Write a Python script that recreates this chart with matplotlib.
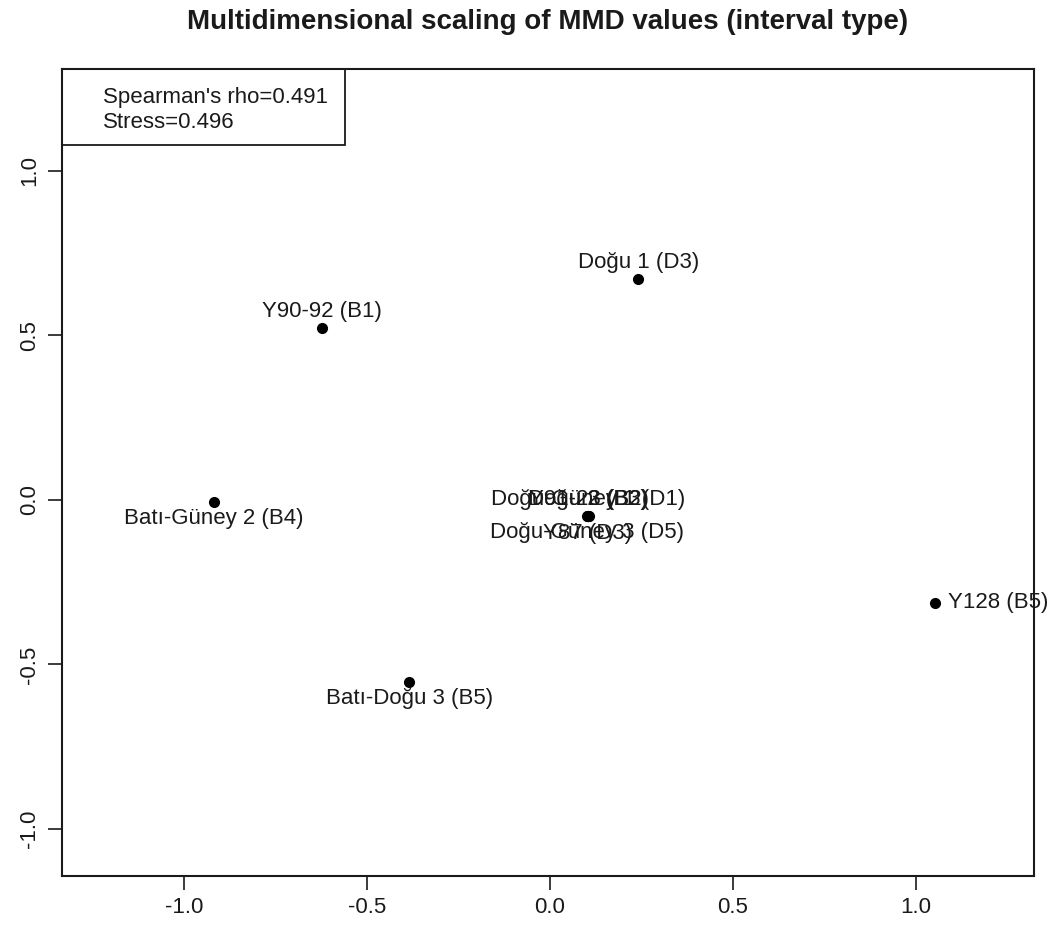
import matplotlib
matplotlib.use("Agg")
import matplotlib.pyplot as plt
from matplotlib.patches import Rectangle

plt.rcParams['font.family'] = ['Liberation Sans', 'DejaVu Sans']

# MDS coordinates
labels = ["Doğu 1 (D3)", "Y90-92 (B1)", "Batı-Güney 2 (B4)",
          "Doğu-Güney 1 (D1)", "Doğu 2 (B3)", "Y91-23 (B2)",
          "Doğu-Güney 3 (D5)", "Y87 (D3)",
          "Y128 (B5)", "Batı-Doğu 3 (B5)"]
dim1 = [0.242, -0.625, -0.920, 0.104, 0.103, 0.106, 0.102, 0.104, 1.052, -0.385]
dim2 = [0.672, 0.522, -0.007, -0.048, -0.049, -0.050, -0.049, -0.050, -0.313, -0.553]
# 3 = above, 1 = below, 4 = right (like R's pos)
label_pos = [3, 3, 1, 3, 3, 3, 1, 1, 4, 1]

rho = 0.491
stress = 0.496

fig = plt.figure(figsize=(10.56, 9.26), dpi=100)
ax = fig.add_axes([62 / 1056, 1 - 876 / 926, 972 / 1056, 807 / 926])

ax.plot(dim1, dim2, "o", color="black", markersize=7, linestyle="none")

for x, y, lab, p in zip(dim1, dim2, labels, label_pos):
    if p == 3:
        off, ha = (0, 12), "center"
    elif p == 1:
        off, ha = (0, -12), "center"
    else:
        off, ha = (10, 0), "left"
    ax.annotate(lab, (x, y), xytext=off, textcoords="offset points",
                ha=ha, va="center", fontsize=16, color="#1a1a1a",
                annotation_clip=False)

ax.set_xlim(-1.335, 1.324)
ax.set_ylim(-1.143, 1.310)
ax.set_xticks([-1.0, -0.5, 0.0, 0.5, 1.0])
ax.set_yticks([-1.0, -0.5, 0.0, 0.5, 1.0])
ax.set_xticklabels(["-1.0", "-0.5", "0.0", "0.5", "1.0"])
ax.set_yticklabels(["-1.0", "-0.5", "0.0", "0.5", "1.0"], rotation=90, va="center")
ax.tick_params(axis="both", labelsize=16, length=10, width=1.2,
               colors="#1a1a1a")
ax.tick_params(axis="x", pad=5)
ax.tick_params(axis="y", pad=6)

for sp in ax.spines.values():
    sp.set_linewidth(1.5)
    sp.set_color("#1a1a1a")

# legend box like R's legend("topleft")
ax.add_patch(Rectangle((0, 0.906), 0.291, 0.094, transform=ax.transAxes,
                       fill=False, edgecolor="#1a1a1a", linewidth=1.3,
                       clip_on=False))
ax.text(0.042, 0.965, "Spearman's rho=%.3f" % rho, transform=ax.transAxes,
        fontsize=16, va="center", ha="left", color="#1a1a1a")
ax.text(0.042, 0.934, "Stress=%.3f" % stress, transform=ax.transAxes,
        fontsize=16, va="center", ha="left", color="#1a1a1a")

fig.text(548 / 1056, 1 - 22 / 926, "Multidimensional scaling of MMD values (interval type)",
         ha="center", va="center", fontsize=20, fontweight="bold", color="#1a1a1a")

fig.savefig("out.png", dpi=100)
